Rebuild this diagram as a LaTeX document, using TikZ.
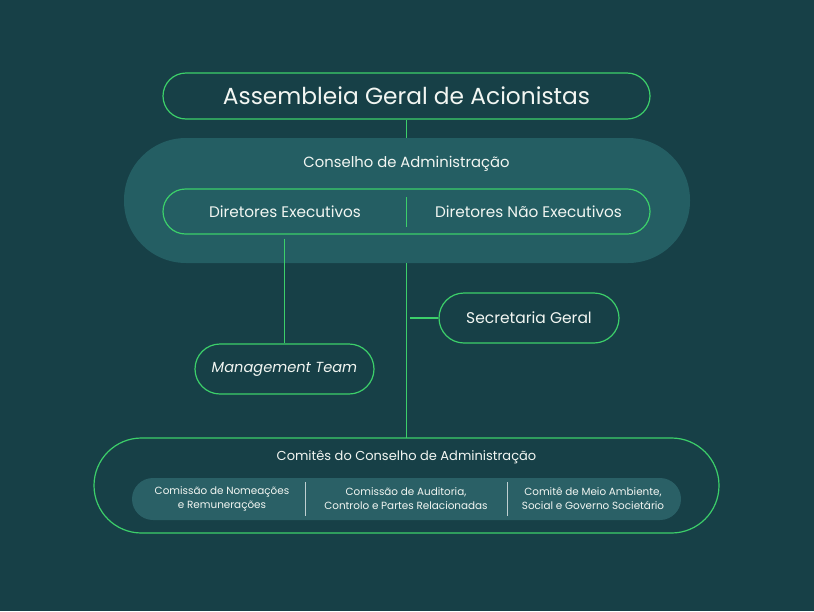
\documentclass[tikz,border=0pt]{standalone}
\usepackage{fontspec}
\setmainfont{Poppins}
\definecolor{bg}{HTML}{174047}
\definecolor{consfill}{HTML}{245E63}
\definecolor{barfill}{HTML}{2A6066}
\definecolor{grn}{HTML}{3CCF6A}
\definecolor{txt}{HTML}{F2F6F2}
\tikzset{
  pill/.style={draw=grn, line width=1.2pt, rounded corners=#1, inner sep=0pt},
  lbl/.style={text=txt, inner sep=0pt, align=center},
  link/.style={draw=grn, line width=1.2pt},
}
\begin{document}
\begin{tikzpicture}[x=1pt,y=-1pt]
\fill[bg] (0,0) rectangle (814,611);
\useasboundingbox (0,0) rectangle (814,611);
% Assembleia
\node[pill=23pt, minimum width=487pt, minimum height=46pt] (assem) at (406.5,96) {};
\node[lbl, font=\fontsize{23.3}{27}\selectfont] (assemt) at (406.5,96) {Assembleia Geral de Acionistas};
% Conselho
\node[fill=consfill, rounded corners=62pt, minimum width=566pt, minimum height=125pt, inner sep=0pt] (cons) at (407,200.5) {};
\node[lbl, font=\fontsize{14.8}{17}\selectfont] (const) at (406.5,164) {Conselho de Administração};
\node[pill=22.5pt, minimum width=487pt, minimum height=45pt] (dir) at (406.5,211.5) {};
\draw[link] (406.5,197) coordinate (dv1) -- (406.5,227) coordinate (dv2);
\node[lbl, font=\fontsize{15.3}{18}\selectfont] (dexec) at (285,211.5) {Diretores Executivos};
\node[lbl, font=\fontsize{15.3}{18}\selectfont] (dnexec) at (528.5,211.5) {Diretores Não Executivos};
% Management & Secretaria
\node[pill=25pt, minimum width=179pt, minimum height=50pt] (mgmt) at (284.5,369) {};
\node[lbl, font=\fontsize{14.6}{17}\itshape] (mgmtt) at (284.5,369) {Management Team};
\node[pill=25pt, minimum width=180pt, minimum height=50pt] (sec) at (529,318) {};
\node[lbl, font=\fontsize{15.5}{18}\selectfont] (sect) at (529,318) {Secretaria Geral};
% Comites
\node[pill=47.5pt, minimum width=625pt, minimum height=95pt] (com) at (406.5,485.5) {};
\node[lbl, font=\fontsize{13}{16}\selectfont] (comt) at (406.5,457) {Comitês do Conselho de Administração};
\node[fill=barfill, rounded corners=21pt, minimum width=549pt, minimum height=42pt, inner sep=0pt] (bar) at (406.5,499) {};
\draw[draw=white!70!barfill, line width=1pt] (305,482) -- (305,516);
\draw[draw=white!70!barfill, line width=1pt] (507,482) -- (507,516);
\node[lbl, font=\fontsize{10.4}{14}\selectfont] (c1) at (222,499) {Comissão de Nomeações\\e Remunerações};
\node[lbl, font=\fontsize{10.4}{14}\selectfont] (c2) at (406,499) {Comissão de Auditoria,\\Controlo e Partes Relacionadas};
\node[lbl, font=\fontsize{10.4}{14}\selectfont] (c3) at (593,499) {Comitê de Meio Ambiente,\\Social e Governo Societário};
% connectors
\draw[link] (assem.south) -- (assem.south |- cons.north);
\draw[link, shorten <=4pt] (mgmt.north |- dir.south) -- (mgmt.north);
\draw[link] (406.5,263) coordinate (cb) -- (406.5,438) coordinate (ct);
\draw[link] ([xshift=-28pt]sec.west) coordinate (sj) -- (sec.west);
\end{tikzpicture}
\end{document}
